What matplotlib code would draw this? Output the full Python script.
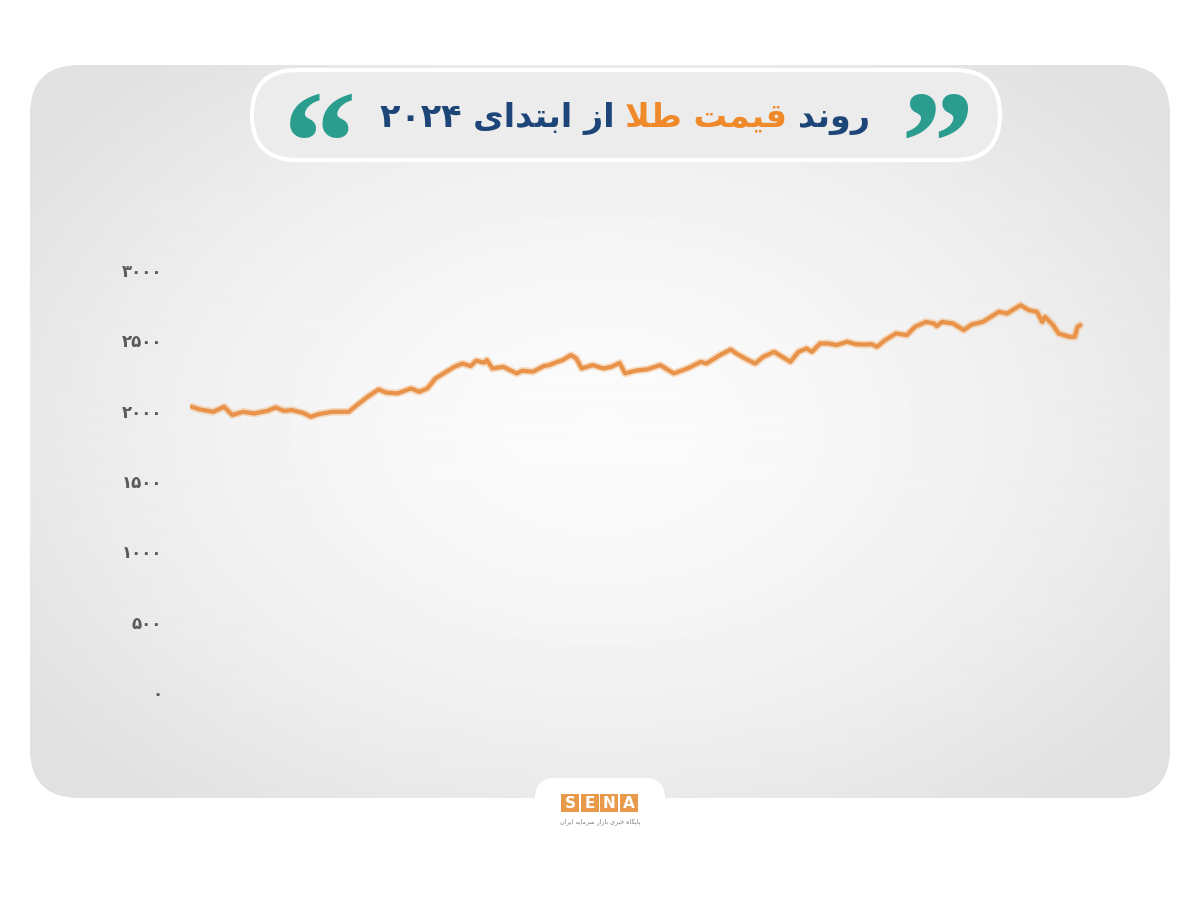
import numpy as np
import matplotlib
matplotlib.use("Agg")
import matplotlib.pyplot as plt
from matplotlib.patches import FancyBboxPatch, Rectangle
from matplotlib.offsetbox import TextArea, HPacker, AnnotationBbox

# ---------------- data (gold price, USD/oz, from start of 2024) ----------------
days = [0, 3, 8, 12, 15, 19, 23, 28, 31, 34, 37, 41, 44, 47, 52, 58, 61, 65, 69, 72,
        76, 81, 84, 87, 90, 94, 97, 100, 103, 105, 108, 109, 111, 115, 117, 120, 122,
        126, 130, 132, 135, 137, 140, 142, 144, 148, 152, 155, 158, 160, 163, 165, 168,
        173, 175, 178, 183, 188, 190, 195, 199, 201, 205, 208, 211, 215, 218, 221, 224,
        227, 229, 232, 235, 238, 242, 245, 249, 251, 253, 256, 260, 264, 267, 271, 274,
        275, 277, 281, 285, 288, 292, 296, 298, 301, 303, 306, 309, 312, 314, 315, 318,
        320, 324, 326, 327, 328]
price = [2028, 2009, 1992, 2028, 1969, 1992, 1980, 1999, 2023, 1999, 2004, 1985, 1957,
         1976, 1992, 1992, 2040, 2099, 2151, 2128, 2123, 2158, 2134, 2158, 2229, 2277,
         2312, 2335, 2317, 2355, 2341, 2360, 2300, 2312, 2293, 2265, 2284, 2277, 2317,
         2324, 2347, 2360, 2395, 2371, 2300, 2324, 2300, 2312, 2340, 2265, 2280, 2288,
         2293, 2324, 2300, 2265, 2300, 2347, 2335, 2395, 2435, 2407, 2364, 2335, 2383,
         2418, 2383, 2347, 2418, 2442, 2418, 2478, 2478, 2466, 2490, 2473, 2470, 2473,
         2454, 2502, 2549, 2537, 2596, 2631, 2620, 2601, 2631, 2620, 2573, 2613, 2631,
         2679, 2703, 2691, 2715, 2750, 2715, 2703, 2631, 2667, 2608, 2549, 2525, 2525,
         2596, 2608]
yticks = [0, 500, 1000, 1500, 2000, 2500, 3000]

title_blue_left = "از ابتدای ۲۰۲۴"
title_orange = "قیمت طلا"
title_blue_right = "روند"
logo_letters = ["S", "E", "N", "A"]
logo_caption = "پایگاه خبری بازار سرمایه ایران"

# ---------------- minimal Persian shaping ----------------
_F = {
    'ا': (0xFE8D, 0xFE8E, None, None), 'ب': (0xFE8F, 0xFE90, 0xFE91, 0xFE92),
    'پ': (0xFB56, 0xFB57, 0xFB58, 0xFB59), 'ت': (0xFE95, 0xFE96, 0xFE97, 0xFE98),
    'ث': (0xFE99, 0xFE9A, 0xFE9B, 0xFE9C), 'ج': (0xFE9D, 0xFE9E, 0xFE9F, 0xFEA0),
    'چ': (0xFB7A, 0xFB7B, 0xFB7C, 0xFB7D), 'ح': (0xFEA1, 0xFEA2, 0xFEA3, 0xFEA4),
    'خ': (0xFEA5, 0xFEA6, 0xFEA7, 0xFEA8), 'د': (0xFEA9, 0xFEAA, None, None),
    'ذ': (0xFEAB, 0xFEAC, None, None), 'ر': (0xFEAD, 0xFEAE, None, None),
    'ز': (0xFEAF, 0xFEB0, None, None), 'ژ': (0xFB8A, 0xFB8B, None, None),
    'س': (0xFEB1, 0xFEB2, 0xFEB3, 0xFEB4), 'ش': (0xFEB5, 0xFEB6, 0xFEB7, 0xFEB8),
    'ص': (0xFEB9, 0xFEBA, 0xFEBB, 0xFEBC), 'ض': (0xFEBD, 0xFEBE, 0xFEBF, 0xFEC0),
    'ط': (0xFEC1, 0xFEC2, 0xFEC3, 0xFEC4), 'ظ': (0xFEC5, 0xFEC6, 0xFEC7, 0xFEC8),
    'ع': (0xFEC9, 0xFECA, 0xFECB, 0xFECC), 'غ': (0xFECD, 0xFECE, 0xFECF, 0xFED0),
    'ف': (0xFED1, 0xFED2, 0xFED3, 0xFED4), 'ق': (0xFED5, 0xFED6, 0xFED7, 0xFED8),
    'ک': (0xFB8E, 0xFB8F, 0xFB90, 0xFB91), 'گ': (0xFB92, 0xFB93, 0xFB94, 0xFB95),
    'ل': (0xFEDD, 0xFEDE, 0xFEDF, 0xFEE0), 'م': (0xFEE1, 0xFEE2, 0xFEE3, 0xFEE4),
    'ن': (0xFEE5, 0xFEE6, 0xFEE7, 0xFEE8), 'و': (0xFEED, 0xFEEE, None, None),
    'ه': (0xFEE9, 0xFEEA, 0xFEEB, 0xFEEC), 'ی': (0xFEEF, 0xFEF0, 0xFEF3, 0xFEF4),
    'لا': (0xFEFB, 0xFEFC, None, None),
}


def shape(s):
    letters, i = [], 0
    while i < len(s):
        if s[i] == 'ل' and i + 1 < len(s) and s[i + 1] == 'ا':
            letters.append('لا'); i += 2
        else:
            letters.append(s[i]); i += 1
    out = []
    for k, c in enumerate(letters):
        if c not in _F:
            out.append(c); continue
        prev = letters[k - 1] if k > 0 else None
        nxt = letters[k + 1] if k + 1 < len(letters) else None
        jp = prev in _F and _F[prev][2] is not None
        jn = nxt in _F and _F[c][2] is not None
        iso, fin, ini, med = _F[c]
        code = med if (jp and jn) else fin if jp else ini if jn else iso
        out.append(chr(code))
    runs, cur, curd = [], "", None
    for ch in out:
        d = ch.isdigit()
        if curd is None or d == curd:
            cur += ch
        else:
            runs.append((cur, curd)); cur = ch
        curd = d
    if cur:
        runs.append((cur, curd))
    return "".join(r if d else r[::-1] for r, d in reversed(runs))


def fa_num(n):
    return str(n).translate(str.maketrans("0123456789", "۰۱۲۳۴۵۶۷۸۹"))


plt.rcParams['font.family'] = ['DejaVu Sans']

# ---------------- figure & decorations ----------------
fig = plt.figure(figsize=(12, 9), dpi=100, facecolor='white')
bg = fig.add_axes([0, 0, 1, 1])
bg.set_xlim(0, 1200)
bg.set_ylim(900, 0)
bg.axis('off')

panel = FancyBboxPatch((30, 65), 1140, 733, boxstyle="round,pad=0,rounding_size=50",
                       fc='#e8e8e8', ec='none', zorder=1)
bg.add_patch(panel)
yy, xx = np.mgrid[65:798:2, 30:1170:2]
r = np.sqrt(((xx - 600) / 620.0) ** 2 + ((yy - 430) / 430.0) ** 2)
grad = np.clip(0.985 - 0.085 * r ** 1.6, 0.88, 1.0)
im = bg.imshow(grad, extent=(30, 1170, 798, 65), cmap='gray', vmin=0, vmax=1,
               zorder=2, aspect='auto', interpolation='bilinear')
im.set_clip_path(panel)

pill = FancyBboxPatch((252, 70), 748, 90, boxstyle="round,pad=0,rounding_size=45",
                      fc='#ececec', ec='white', lw=3, zorder=3)
bg.add_patch(pill)

teal = '#2a9d8f'
qfont = dict(fontsize=106, fontweight='bold', color=teal, family='Liberation Serif',
             ha='center', va='baseline', zorder=4)
bg.text(320, 191, "\u201C", **qfont)
bg.text(937, 191, "\u201D", **qfont)

blue = '#1d4577'
orange_t = '#f0892a'
tp = dict(fontsize=24, fontweight='bold')
pieces = [TextArea(shape(title_blue_left), textprops=dict(color=blue, **tp)),
          TextArea(shape(title_orange), textprops=dict(color=orange_t, **tp)),
          TextArea(shape(title_blue_right), textprops=dict(color=blue, **tp))]
box = HPacker(children=pieces, pad=0, sep=8, align='baseline')
ab = AnnotationBbox(box, (625, 118), xycoords='data', frameon=False, zorder=5,
                    box_alignment=(0.5, 0.5))
bg.add_artist(ab)

# logo tab
tab = FancyBboxPatch((535, 778), 130, 60, boxstyle="round,pad=0,rounding_size=20",
                     fc='white', ec='none', zorder=3)
bg.add_patch(tab)
bg.add_patch(Rectangle((520, 798), 160, 50, fc='white', ec='none', zorder=3))
for k, ch in enumerate(logo_letters):
    x0 = 561 + k * 19.5
    bg.add_patch(Rectangle((x0, 794), 18, 18, fc='#e89a4a', ec='none', zorder=4))
    bg.text(x0 + 9, 803.5, ch, color='white', fontsize=11, fontweight='bold',
            ha='center', va='center', zorder=5)
bg.text(600, 822, shape(logo_caption), color='#7a7a7a', fontsize=4.5,
        ha='center', va='center', zorder=5)

# ---------------- chart ----------------
ax = fig.add_axes([190 / 1200, 1 - 692 / 900, (1084 - 190) / 1200, (692 - 270) / 900])
ax.set_facecolor('none')
ax.set_zorder(6)
ax.plot(days, price, color='#f3b57a', lw=5.5, alpha=0.45, solid_capstyle='round',
        solid_joinstyle='round')
ax.plot(days, price, color='#e8924a', lw=3.0, solid_capstyle='round',
        solid_joinstyle='round')
ax.set_xlim(-0.6, 329.4)
ax.set_ylim(0, 3000)
ax.set_yticks(yticks)
ax.set_yticklabels([fa_num(v) for v in yticks], color='#5a5a5a', fontsize=12,
                   fontweight='bold')
ax.tick_params(axis='y', length=0, pad=20)
ax.set_xticks([])
for s in ax.spines.values():
    s.set_visible(False)

fig.savefig("out.png", dpi=100, facecolor='white')
